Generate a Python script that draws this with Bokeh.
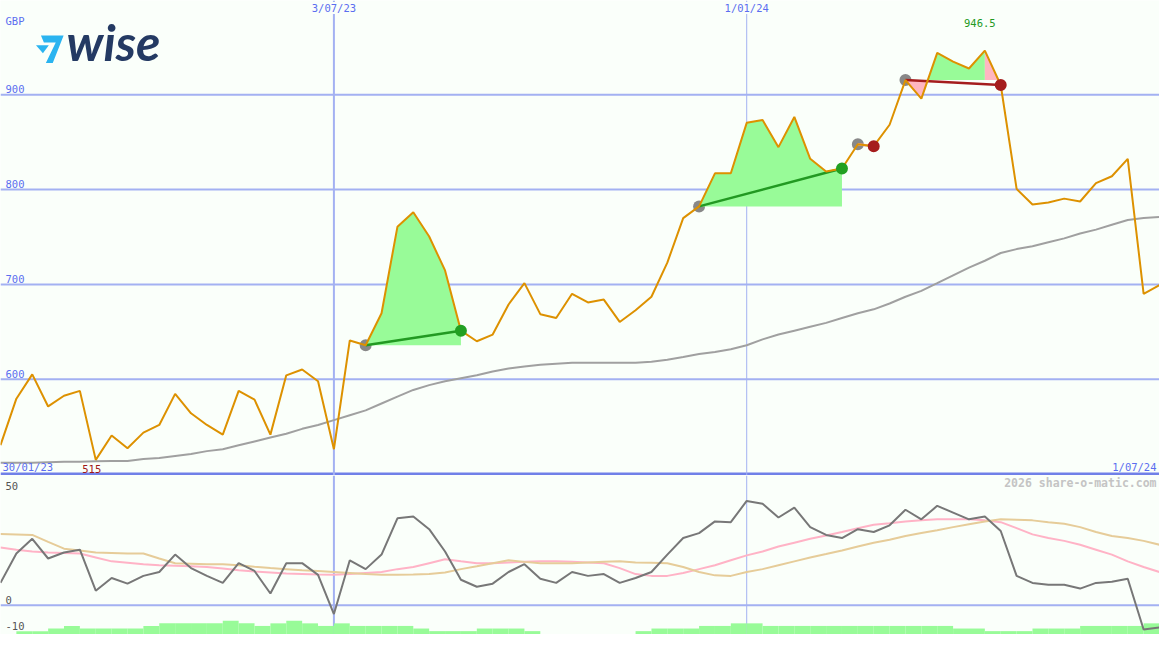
import math
import pandas as pd
from bokeh.plotting import figure
from bokeh.models import Range1d, Span, Label
from bokeh.layouts import column
from bokeh.embed import file_html
from bokeh.resources import INLINE

# ---------------- data (weekly) ----------------
start_date = "2023-02-06"
n_weeks = 74

price = [530.4, 579.5, 605.1, 571.3, 582.6, 587.7, 515.0, 540.6, 527.3, 543.7,
         551.8, 584.6, 564.1, 551.8, 541.6, 587.7, 578.5, 541.6, 604.1, 610.2,
         597.9, 526.2, 640.9, 635.8, 669.6, 760.7, 776.1, 750.5, 714.7, 651.2,
         640.0, 647.1, 678.8, 701.3, 668.6, 664.5, 690.1, 680.9, 684.0, 660.4,
         672.7, 687.0, 722.9, 769.9, 782.2, 817.1, 817.1, 870.3, 873.4, 844.7,
         876.5, 832.4, 819.1, 822.2, 847.8, 845.7, 868.3, 915.4, 895.9, 944.0,
         934.8, 927.6, 946.5, 910.2, 800.7, 784.3, 786.3, 790.4, 787.4, 806.8,
         814.0, 832.4, 690.1, 699.3]

moving_avg = [511.9, 511.9, 511.9, 512.4, 512.9, 512.9, 513.4, 513.9, 513.9, 516.0,
              517.0, 519.1, 521.1, 524.2, 526.2, 530.3, 534.4, 538.5, 542.6, 547.7,
              551.8, 556.9, 562.1, 567.2, 574.4, 581.6, 588.7, 593.8, 597.9, 601.0,
              604.1, 608.2, 611.2, 613.3, 615.3, 616.4, 617.4, 617.4, 617.4, 617.4,
              617.4, 618.4, 620.5, 623.5, 626.6, 628.6, 631.7, 635.8, 642.0, 647.1,
              651.2, 655.3, 659.4, 664.5, 669.6, 673.7, 679.8, 687.0, 693.2, 701.3,
              709.5, 717.7, 724.9, 733.1, 737.2, 740.3, 744.4, 748.5, 753.6, 757.7,
              762.8, 767.9, 770.0, 771.0]

osc_main = [8.6, 19.9, 25.6, 18.0, 20.3, 21.4, 5.6, 10.5, 8.3, 11.3,
            12.8, 19.5, 14.3, 11.3, 8.6, 16.2, 13.2, 4.5, 16.2, 16.2,
            11.7, -3.4, 17.3, 13.9, 19.5, 33.5, 34.2, 29.3, 20.7, 9.8,
            7.1, 8.3, 12.8, 15.8, 10.2, 8.6, 12.8, 11.3, 12.0, 8.6,
            10.5, 12.8, 19.5, 25.9, 27.8, 32.3, 32.0, 40.2, 39.1, 33.8,
            37.6, 30.1, 27.1, 25.9, 29.3, 28.2, 30.8, 36.8, 33.1, 38.3,
            35.7, 33.1, 34.2, 28.6, 11.3, 8.6, 7.9, 7.9, 6.4, 8.6,
            9.0, 10.2, -9.4, -8.6]

osc_pink = [22.2, 21.4, 20.7, 20.3, 20.1, 19.9, 18.4, 16.9, 16.4, 15.8,
            15.4, 15.2, 15.0, 14.7, 14.1, 13.5, 13.0, 12.6, 12.2, 12.0,
            11.8, 11.7, 12.0, 12.4, 12.8, 13.9, 14.7, 16.2, 17.7, 16.9,
            16.2, 16.2, 16.5, 16.7, 16.9, 16.9, 16.7, 16.5, 16.2, 14.3,
            12.0, 11.3, 11.3, 12.4, 13.9, 15.4, 17.3, 19.2, 20.7, 22.6,
            24.1, 25.6, 26.9, 28.2, 29.7, 31.0, 31.6, 32.3, 32.7, 33.1,
            33.1, 33.1, 32.7, 32.0, 29.7, 27.3, 25.9, 24.8, 23.3, 21.4,
            19.5, 16.9, 14.7, 12.8]

osc_tan = [27.4, 27.3, 27.1, 24.4, 21.8, 21.1, 20.3, 20.1, 19.9, 19.9,
           18.0, 16.2, 16.0, 15.8, 15.8, 15.4, 14.8, 14.3, 13.9, 13.5,
           13.2, 12.8, 12.4, 12.0, 11.7, 11.7, 11.8, 12.0, 12.6, 13.9,
           15.0, 16.2, 17.3, 16.7, 16.2, 16.2, 16.2, 16.5, 16.7, 16.9,
           16.5, 16.4, 16.2, 14.7, 12.8, 11.5, 11.3, 12.8, 13.9, 15.4,
           16.9, 18.4, 19.7, 21.1, 22.6, 24.1, 25.2, 26.7, 27.8, 28.9,
           30.1, 31.2, 32.3, 33.1, 32.9, 32.7, 32.0, 31.4, 30.1, 28.2,
           26.7, 25.9, 24.8, 23.3]

# weekly histogram (top value per week; None = no bar)
hist_top = [None, -10, -10, -9, -8, -9, -9, -9, -9, -8,
            -7, -7, -7, -7, -6, -7, -8, -7, -6, -7,
            -8, -7, -8, -8, -8, -8, -9, -10, -10, -10,
            -9, -9, -9, -10, None, None, None, None, None, None,
            -10, -9, -9, -9, -8, -8, -7, -7, -8, -8,
            -8, -8, -8, -8, -8, -8, -8, -8, -8, -8,
            -9, -9, -10, -10, -10, -9, -9, -9, -8, -8,
            -8, -8, -7]

# trade signals: entry week, exit week, kind
sig_entry = [23, 44, 54, 57]
sig_exit = [29, 53, 55, 63]
sig_kind = ["win", "win", "small_loss", "loss"]

price_ticks = [900, 800, 700, 600]
osc_ticks = [0, -10]
date_lines = ["2023-07-03", "2024-01-01"]
date_line_labels = ["3/07/23", "1/01/24"]
first_label = "30/01/23"
last_label = "1/07/24"

# ---------------- styles ----------------
BG = "#fafffa"
GRID = "#a3b1f2"
SEP = "#7080e8"
TXT = "#5a6ef0"
ORANGE = "#dd9100"
GREEN_FILL = "#98fb98"
PINK_FILL = "#ffb6c1"
MONO = "DejaVu Sans Mono"
FS = "10.5px"
line_col = {"win": "#229922", "small_loss": "#f2a0a8", "loss": "#a51d1d"}
exit_col = {"win": "#22a022", "small_loss": "#a51d1d", "loss": "#a51d1d"}

W = 1159
H_TOP = 475
H_BOT = 159

dates = pd.date_range(start_date, periods=n_weeks, freq="7D")
epoch = pd.Timestamp("1970-01-01")
xs = [(d - epoch) / pd.Timedelta(milliseconds=1) for d in dates]
WEEK = xs[1] - xs[0]


def to_ms(s):
    return (pd.Timestamp(s) - epoch) / pd.Timedelta(milliseconds=1)


def xf(f):
    return xs[0] + f * WEEK


def pf(f):
    i = min(int(math.floor(f)), n_weeks - 2)
    t = f - i
    return price[i] * (1 - t) + price[i + 1] * t


def path(a, b):
    px = [xf(a)]
    py = [pf(a)]
    k = int(math.floor(a)) + 1
    while k < b:
        px.append(xs[k])
        py.append(price[k])
        k += 1
    px.append(xf(b))
    py.append(pf(b))
    return px, py


def lab(**kw):
    kw.setdefault("text_font", MONO)
    kw.setdefault("text_font_size", FS)
    return Label(**kw)


def base_fig(h, yr):
    p = figure(width=W, height=h, x_range=Range1d(xs[0], xs[-1]), y_range=yr,
               output_backend="svg", toolbar_location=None, min_border=0,
               background_fill_color=BG, border_fill_color=BG,
               outline_line_color=None)
    p.axis.visible = False
    p.grid.visible = False
    return p


# ---------------- top (price) panel ----------------
p1 = base_fig(H_TOP, Range1d(498.5, 999.3))
p1.extra_x_ranges = {"px": Range1d(0, 1175)}
p1.extra_y_ranges = {"px": Range1d(487, 0)}

for t in price_ticks:
    p1.add_layout(Span(location=t, dimension="width", line_color=GRID,
                       line_width=2, level="underlay"))
    p1.add_layout(lab(x=5, y=t, x_units="screen", y_offset=1.5, text=str(t),
                      text_color=TXT))
p1.add_layout(Span(location=500, dimension="width", line_color=SEP,
                   line_width=3, level="underlay"))
for d, w in zip(date_lines, [2, 1]):
    p1.add_layout(Span(location=to_ms(d), dimension="height", line_color=GRID,
                       line_width=w, level="underlay"))

# entry markers (under fills)
p1.scatter([xs[i] for i in sig_entry], [price[i] for i in sig_entry],
           size=12, color="#888888", line_color=None)

# signal fills
for a, b, kind in zip(sig_entry, sig_exit, sig_kind):
    L = price[a]
    bps = [a, b]
    for k in range(a, b):
        d0, d1 = price[k] - L, price[k + 1] - L
        if d0 * d1 < 0:
            bps.append(k + d0 / (d0 - d1))
    peak = max(range(a, b + 1), key=lambda k: price[k])
    losing = price[b] < L
    if losing:
        bps.append(peak)
    bps = sorted(set(bps))
    for s, e in zip(bps[:-1], bps[1:]):
        if e - s < 1e-6:
            continue
        mid = pf((s + e) / 2)
        if mid < L or (losing and s >= peak):
            col = PINK_FILL
        else:
            col = GREEN_FILL
        px, py = path(s, e)
        p1.patch(px + [xf(e), xf(s)], py + [L, L], fill_color=col,
                 line_color=None)

# moving average
p1.line(xs, moving_avg, line_color="#a0a0a0", line_width=2)

# entry-exit connectors
for a, b, kind in zip(sig_entry, sig_exit, sig_kind):
    p1.line([xs[a], xs[b]], [price[a], price[b]], line_color=line_col[kind],
            line_width=2.5)

# price
p1.line(xs, price, line_color=ORANGE, line_width=2)

# exit markers
p1.scatter([xs[i] for i in sig_exit], [price[i] for i in sig_exit], size=12,
           color=[exit_col[k] for k in sig_kind], line_color=None)

# logo
p1.patches([[41, 64, 53, 46, 56, 44], [36, 49, 43]],
           [[36, 36, 64, 64, 43, 43], [46, 46, 54]],
           fill_color="#2ab4f0", line_color=None,
           x_range_name="px", y_range_name="px")
p1.add_layout(Label(x=66, y=H_TOP - 71, x_units="screen", y_units="screen",
                    text="wise", text_font="Lato", text_font_size="50px",
                    text_font_style="bold italic", text_color="#243a63"))

# texts
p1.add_layout(lab(x=5, y=H_TOP - 26, x_units="screen", y_units="screen",
                  text="GBP", text_color=TXT))
for d, t in zip(date_lines, date_line_labels):
    p1.add_layout(lab(x=to_ms(d), y=H_TOP - 13.5, y_units="screen", text=t,
                      text_align="center", text_color=TXT,
                      background_fill_color=BG))
imax = max(range(n_weeks), key=lambda k: price[k])
imin = min(range(n_weeks), key=lambda k: price[k])
p1.add_layout(lab(x=xs[imax], y=H_TOP - 26, y_units="screen", x_offset=-5,
                  text=f"{price[imax]:g}", text_align="center",
                  text_color="#229922"))
p1.add_layout(lab(x=xs[imin], y=3, y_units="screen", x_offset=-4,
                  text=f"{price[imin]:g}", text_align="center",
                  text_color="#a01818"))
p1.add_layout(lab(x=2, y=3, x_units="screen", y_units="screen",
                  text=first_label, text_color=TXT))
p1.add_layout(lab(x=W - 3, y=3, x_units="screen", y_units="screen",
                  text=last_label, text_align="right", text_color=TXT))

# ---------------- bottom (oscillator) panel ----------------
p2 = base_fig(H_BOT, Range1d(-11.3, 50))
for d, w in zip(date_lines, [2, 1]):
    p2.add_layout(Span(location=to_ms(d), dimension="height", line_color=GRID,
                       line_width=w, level="underlay"))
p2.add_layout(Span(location=0, dimension="width", line_color=GRID,
                   line_width=2, level="underlay"))

hl, hr, ht = [], [], []
for i, v in enumerate(hist_top):
    if v is not None:
        hl.append(xs[i])
        hr.append(xs[i + 1])
        ht.append(v)
p2.quad(left=hl, right=hr, bottom=-12, top=ht, fill_color=GREEN_FILL,
        line_color=None)

p2.line(xs, osc_pink, line_color="#ffb3c6", line_width=2)
p2.line(xs, osc_tan, line_color="#e6cc99", line_width=2)
p2.line(xs, osc_main, line_color="#777777", line_width=2)

p2.add_layout(lab(x=5, y=H_BOT - 14, x_units="screen", y_units="screen",
                  text="50", text_color="#555555"))
for t in osc_ticks:
    p2.add_layout(lab(x=5, y=t, x_units="screen", y_offset=1.5, text=str(t),
                      text_color="#555555"))
p2.add_layout(lab(x=W - 3, y=H_BOT - 14, x_units="screen", y_units="screen",
                  text="2026 share-o-matic.com", text_align="right",
                  text_font_size="11.5px", text_font_style="bold",
                  text_color="#c4c4c4"))

layout = column(p1, p2, spacing=0)
open("out.html", "w").write(file_html(layout, INLINE))
